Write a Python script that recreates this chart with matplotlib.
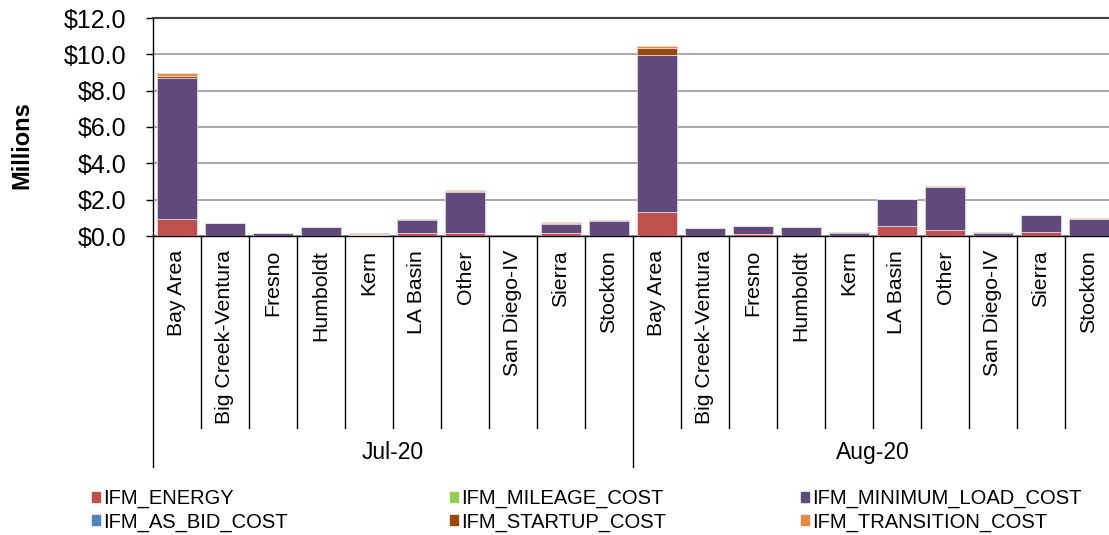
import numpy as np
import matplotlib
matplotlib.use('Agg')
import matplotlib.pyplot as plt
from matplotlib.patches import Patch

plt.rcParams['font.family'] = ['Liberation Sans', 'DejaVu Sans']

regions = ['Bay Area', 'Big Creek-Ventura', 'Fresno', 'Humboldt', 'Kern',
           'LA Basin', 'Other', 'San Diego-IV', 'Sierra', 'Stockton']
months = ['Jul-20', 'Aug-20']

# values in $ millions, Jul-20 regions then Aug-20 regions
ifm_energy = [0.92, 0.02, 0.01, 0.01, 0.02, 0.18, 0.18, 0.00, 0.15, 0.02,
              1.32, 0.01, 0.09, 0.01, 0.02, 0.55, 0.35, 0.02, 0.24, 0.02]
ifm_as_bid = [0.0] * 20
ifm_mileage = [0.0] * 20
ifm_min_load = [7.76, 0.70, 0.14, 0.47, 0.06, 0.70, 2.26, 0.01, 0.49, 0.81,
                8.62, 0.41, 0.44, 0.49, 0.13, 1.47, 2.33, 0.17, 0.90, 0.92]
ifm_startup = [0.15, 0.00, 0.00, 0.00, 0.04, 0.06, 0.02, 0.00, 0.09, 0.05,
               0.43, 0.00, 0.01, 0.00, 0.07, 0.01, 0.01, 0.01, 0.02, 0.02]
ifm_transition = [0.15, 0.01, 0.00, 0.00, 0.04, 0.01, 0.05, 0.00, 0.03, 0.02,
                  0.09, 0.01, 0.02, 0.00, 0.01, 0.00, 0.06, 0.02, 0.02, 0.03]

series = [
    ('IFM_ENERGY', ifm_energy, '#C0504D'),
    ('IFM_AS_BID_COST', ifm_as_bid, '#4F81BD'),
    ('IFM_MILEAGE_COST', ifm_mileage, '#92D050'),
    ('IFM_MINIMUM_LOAD_COST', ifm_min_load, '#604A7B'),
    ('IFM_STARTUP_COST', ifm_startup, '#984807'),
    ('IFM_TRANSITION_COST', ifm_transition, '#E8893F'),
]

labels = regions * len(months)
n = len(labels)
x = np.arange(n)

fig = plt.figure(figsize=(11.09, 5.35), dpi=100)
ax = fig.add_axes([153 / 1109, 1 - 236 / 535, 960 / 1109, 218 / 535])

bottom = np.zeros(n)
for name, vals, col in series:
    vals = np.array(vals)
    ax.bar(x, vals, 0.84, bottom=bottom, color=col, edgecolor='#e6e0ea',
           linewidth=0.5, zorder=3)
    bottom += vals

ax.set_xlim(-0.5, n - 0.5)
ax.set_ylim(0, 12)
ax.set_yticks(np.arange(0, 12.1, 2))
ax.set_yticklabels(['$%.1f' % v for v in np.arange(0, 12.1, 2)], fontsize=18)
ax.yaxis.grid(True, color='#9a9a9a', linewidth=1.2, zorder=0)
ax.set_xticks([])
ax.tick_params(axis='y', length=5, width=1, pad=14, direction='out')

ax.spines['right'].set_visible(False)
ax.spines['top'].set_color('#404040')
ax.spines['top'].set_linewidth(1.5)
ax.spines['left'].set_linewidth(1)
ax.spines['bottom'].set_linewidth(1)

fig.text(22 / 1109, 1 - 145 / 535, 'Millions', rotation=90, ha='center',
         va='center', fontsize=17, fontweight='bold')

# two-level category axis
trans = ax.get_xaxis_transform()
for k in range(n + 1):
    low = -1.06 if k % len(regions) == 0 else -0.88
    ax.plot([k - 0.5, k - 0.5], [0, low], transform=trans, color='black',
            linewidth=1, clip_on=False)
for i, lab in enumerate(labels):
    ax.text(i, -0.065, lab, transform=trans, rotation=90, ha='center',
            va='top', fontsize=15.3)
for j, m in enumerate(months):
    ax.text(j * len(regions) + (len(regions) - 1) / 2, -0.995, m,
            transform=trans, ha='center', va='center', fontsize=16.5)

# legend: three columns of two entries
handles = [Patch(color=c, label=nm) for nm, v, c in series]
cols = [[0, 1], [2, 4], [3, 5]]
col_x = [92, 450, 801]
for cx, idx in zip(col_x, cols):
    fig.legend([handles[i] for i in idx], [series[i][0] for i in idx],
               loc='upper left', bbox_to_anchor=(cx / 1109, 1 - 489 / 535),
               frameon=False, fontsize=14.5, handlelength=0.4,
               handleheight=0.4, handletextpad=0.15, labelspacing=0.2,
               borderpad=0, borderaxespad=0)

fig.savefig('out.png', dpi=100)
